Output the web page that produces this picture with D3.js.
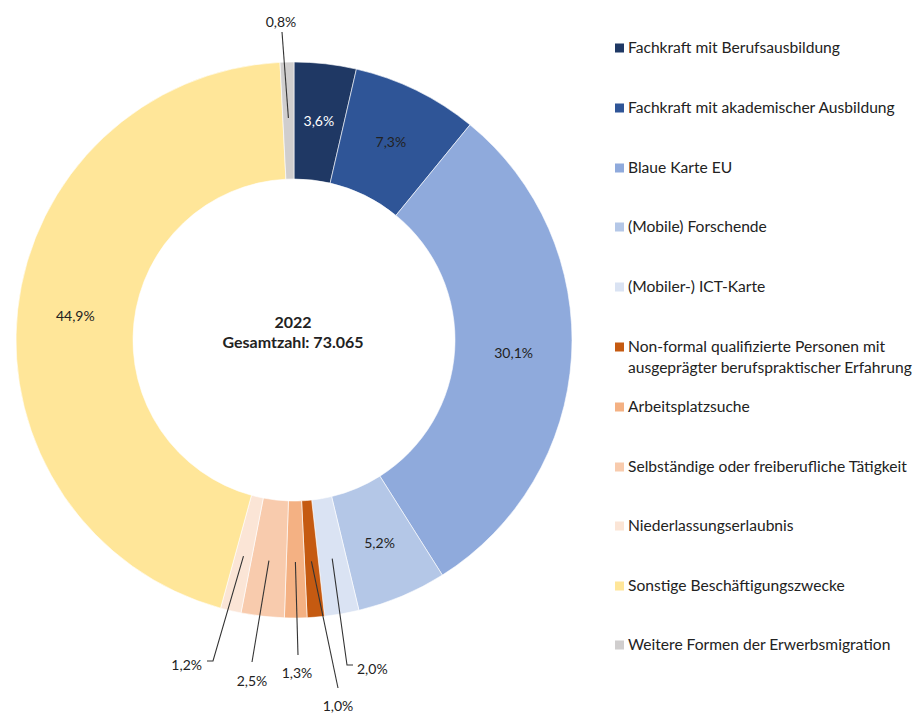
<!DOCTYPE html>
<meta charset="utf-8">
<style>
body {
  margin: 0;
  background: #fff;
  font-family: Lato, "Open Sans", sans-serif;
}
svg text {
  fill: #222;
}
</style>
<body>
<script src="https://d3js.org/d3.v7.min.js"></script>
<script>
'use strict';

// share of each residence purpose, clockwise from 12 o'clock
const categories = [
  "Fachkraft mit Berufsausbildung",
  "Fachkraft mit akademischer Ausbildung",
  "Blaue Karte EU",
  "(Mobile) Forschende",
  "(Mobiler-) ICT-Karte",
  "Non-formal qualifizierte Personen mit|ausgeprägter berufspraktischer Erfahrung",
  "Arbeitsplatzsuche",
  "Selbständige oder freiberufliche Tätigkeit",
  "Niederlassungserlaubnis",
  "Sonstige Beschäftigungszwecke",
  "Weitere Formen der Erwerbsmigration"
];
const shares = [3.6, 7.3, 30.1, 5.2, 2.0, 1.0, 1.3, 2.5, 1.2, 44.9, 0.8];
const colors = ["#1f3864", "#2f5597", "#8faadc", "#b4c7e7", "#dae3f3",
                "#c55a11", "#f4b183", "#f8cbad", "#fbe5d6", "#ffe699", "#d0cece"];
const centerTitle = ["2022", "Gesamtzahl: 73.065"];

// slices whose label sits outside, with a leader line (end offset from centre, elbow, text anchor)
const outside = {
  10: {end: [-12, -308], text: [-13, -318], anchor: "middle"},
  8:  {end: [-81, 321], elbow: -6, text: [-92, 325], anchor: "end"},
  7:  {end: [-42, 322], text: [-42, 341], anchor: "middle"},
  6:  {end: [4, 315], text: [3, 333], anchor: "middle"},
  5:  {end: [44, 348], text: [44, 366], anchor: "middle"},
  4:  {end: [53, 325], elbow: 6, text: [63, 329], anchor: "start"}
};

const width = 917, height = 714,
      cx = 294, cy = 340,
      outerR = 278, innerR = 161;

const de = d3.formatLocale({decimal: ",", thousands: ".", grouping: [3], currency: ["", " €"]});
const pct = v => de.format(".1f")(v) + "%";

const svg = d3.select("body").append("svg")
    .attr("width", width)
    .attr("height", height);

const g = svg.append("g").attr("transform", `translate(${cx},${cy})`);

const pie = d3.pie().sort(null).value(d => d)(shares);
const arc = d3.arc().innerRadius(innerR).outerRadius(outerR);
const mid = d3.arc().innerRadius(222).outerRadius(222);

g.selectAll("path.slice")
    .data(pie)
  .enter().append("path")
    .attr("class", "slice")
    .attr("d", arc)
    .attr("fill", (d, i) => colors[i])
    .attr("stroke", "#fff")
    .attr("stroke-width", 0.6);

// labels inside the ring
g.selectAll("text.inlabel")
    .data(pie.filter((d, i) => !outside[i]))
  .enter().append("text")
    .attr("class", "inlabel")
    .attr("transform", d => {
      const c = d3.arc().innerRadius(220).outerRadius(220).centroid(d);
      return `translate(${c[0]},${c[1]})`;
    })
    .attr("text-anchor", "middle")
    .attr("dy", "0.35em")
    .style("font-size", "14px")
    .style("fill", d => d.index === 0 ? "#fff" : "#222")
    .text(d => pct(d.data));

// outside labels with leader lines
pie.forEach((d, i) => {
  const o = outside[i];
  if (!o) return;
  const s = mid.centroid(d);
  const pts = [s, o.end];
  if (o.elbow) pts.push([o.end[0] + o.elbow, o.end[1]]);
  g.append("path")
      .attr("d", d3.line()(pts))
      .attr("fill", "none")
      .attr("stroke", "#333")
      .attr("stroke-width", 1.1);
  g.append("text")
      .attr("x", o.text[0])
      .attr("y", o.text[1])
      .attr("text-anchor", o.anchor)
      .attr("dy", "0.35em")
      .style("font-size", "14px")
      .text(pct(d.data));
});

// centre caption
g.selectAll("text.center")
    .data(centerTitle)
  .enter().append("text")
    .attr("class", "center")
    .attr("x", -1)
    .attr("y", (d, i) => -18 + i * 20)
    .attr("text-anchor", "middle")
    .attr("dy", "0.35em")
    .style("font-size", "16px")
    .style("font-weight", "bold")
    .text(d => d);

// legend
const legendY = [48, 108, 168, 227, 287, 347, 407, 467, 526, 586, 645];
const legend = svg.append("g").attr("transform", "translate(615,0)");
const item = legend.selectAll("g.item")
    .data(categories)
  .enter().append("g")
    .attr("class", "item")
    .attr("transform", (d, i) => `translate(0,${legendY[i]})`);

item.append("rect")
    .attr("x", 0)
    .attr("y", -4.5)
    .attr("width", 9)
    .attr("height", 9)
    .attr("fill", (d, i) => colors[i]);

item.append("text")
    .attr("x", 13)
    .style("font-size", "15.6px")
    .selectAll("tspan")
    .data(d => d.split("|"))
  .enter().append("tspan")
    .attr("x", 13)
    .attr("y", (d, i) => i * 21)
    .attr("dy", "0.35em")
    .text(d => d);
</script>
